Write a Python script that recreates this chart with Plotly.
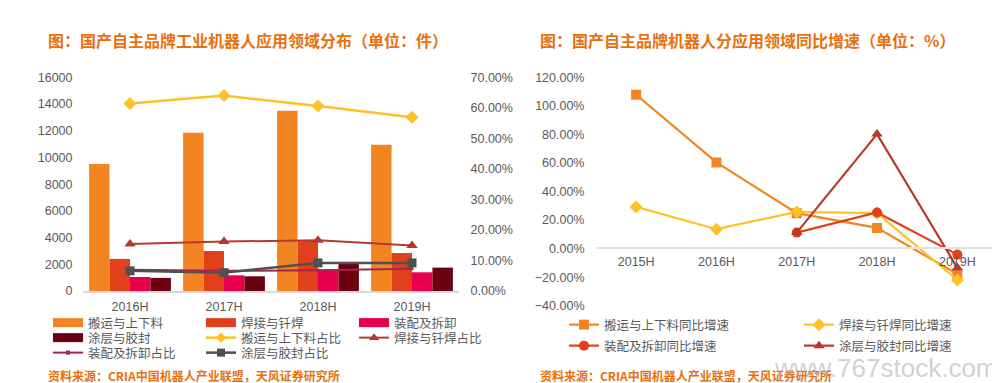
import plotly.graph_objects as go

# ---------------- data ----------------
cats_left = ["2016H", "2017H", "2018H", "2019H"]
handling = [9500, 11850, 13500, 10950]
welding = [2400, 3000, 3800, 2850]
assembly = [1050, 1175, 1600, 1400]
coating = [980, 1100, 2125, 1750]
handling_share = [0.614, 0.640, 0.606, 0.569]
welding_share = [0.154, 0.162, 0.166, 0.149]
assembly_share = [0.070, 0.066, 0.068, 0.073]
coating_share = [0.066, 0.060, 0.092, 0.092]

cats_right = ["2015H", "2016H", "2017H", "2018H", "2019H"]
handling_yoy = [1.078, 0.604, 0.248, 0.145, -0.178]
welding_yoy = [0.292, 0.136, 0.257, 0.248, -0.220]
assembly_yoy = [None, None, 0.112, 0.253, -0.042]
coating_yoy = [None, None, 0.112, 0.802, -0.135]

left_names = ["搬运与上下料", "焊接与钎焊", "装配及拆卸", "涂层与胶封"]
left_share_names = ["搬运与上下料占比", "焊接与钎焊占比", "装配及拆卸占比", "涂层与胶封占比"]
right_names = ["搬运与上下料同比增速", "焊接与钎焊同比增速", "装配及拆卸同比增速", "涂层与胶封同比增速"]

title_left = "图：国产自主品牌工业机器人应用领域分布（单位：件）"
title_right = "图：国产自主品牌机器人分应用领域同比增速（单位：%）"
source_text = "资料来源：CRIA中国机器人产业联盟，天风证券研究所"

# ---------------- styles / geometry ----------------
W, H = 992, 375          # page body has an 8px margin
OFF = 8


def px(X):
    return (X - OFF) / W


def py(Y):
    return 1 - (Y - OFF) / H


C_ORANGE = "#F28522"
C_RED = "#E0401C"
C_PINK = "#E8004C"
C_MAROON = "#6B0010"
C_YELLOW = "#FFC125"
C_BROWN = "#B53A2C"
C_CRIMSON = "#A8234B"
C_GRAY = "#505050"
TXT = "#595959"
FONT = "Liberation Sans, Noto Sans CJK SC, sans-serif"
TITLE_ORANGE = "#E8700E"

fig = go.Figure()

bar_colors = [C_ORANGE, C_RED, C_PINK, C_MAROON]
bar_vals = [handling, welding, assembly, coating]
for name, vals, col in zip(left_names, bar_vals, bar_colors):
    fig.add_trace(go.Bar(x=cats_left, y=vals, name=name, marker=dict(color=col, line=dict(width=0)),
                         xaxis="x", yaxis="y", showlegend=False, legendgroup=name))

share_vals = [handling_share, welding_share, assembly_share, coating_share]
share_cols = [C_YELLOW, C_BROWN, C_CRIMSON, C_GRAY]
share_syms = ["diamond", "triangle-up", "square", "square"]
share_sizes = [10, 10, 3, 9]
share_widths = [2.5, 2, 2, 2.5]
for name, vals, col, sym, sz, w in zip(left_share_names, share_vals, share_cols, share_syms, share_sizes, share_widths):
    fig.add_trace(go.Scatter(x=cats_left, y=vals, name=name, mode="lines+markers",
                             line=dict(color=col, width=w), marker=dict(symbol=sym, size=sz, color=col),
                             xaxis="x", yaxis="y2", showlegend=False, legendgroup=name))

# legend entries (left), three rows x three columns
left_legend_items = [
    (left_names[0], "bar", C_ORANGE, None, "legend"),
    (left_names[1], "bar", C_RED, None, "legend"),
    (left_names[2], "bar", C_PINK, None, "legend"),
    (left_names[3], "bar", C_MAROON, None, "legend2"),
    (left_share_names[0], "line", C_YELLOW, ("diamond", 8, 2.5), "legend2"),
    (left_share_names[1], "line", C_BROWN, ("triangle-up", 9, 2), "legend2"),
    (left_share_names[2], "line", C_CRIMSON, ("square", 4, 2), "legend3"),
    (left_share_names[3], "line", C_GRAY, ("square", 8, 2.5), "legend3"),
]
for name, kind, col, mk, lg in left_legend_items:
    if kind == "bar":
        fig.add_trace(go.Scatter(x=[None], y=[None], name=name, mode="lines",
                                 line=dict(color=col, width=9), legend=lg, legendgroup=name,
                                 xaxis="x", yaxis="y", hoverinfo="skip"))
    else:
        fig.add_trace(go.Scatter(x=[None], y=[None], name=name, mode="lines+markers",
                                 line=dict(color=col, width=mk[2]), marker=dict(symbol=mk[0], size=mk[1], color=col),
                                 legend=lg, legendgroup=name, xaxis="x", yaxis="y", hoverinfo="skip"))

# right chart
right_vals = [handling_yoy, welding_yoy, assembly_yoy, coating_yoy]
right_cols = [C_ORANGE, C_YELLOW, C_RED, C_BROWN]
right_syms = ["square", "diamond", "circle", "triangle-up"]
right_sizes = [10, 10, 10, 10]
right_legends = ["legend4", "legend5", "legend6", "legend7"]
for name, vals, col, sym, sz, lg in zip(right_names, right_vals, right_cols, right_syms, right_sizes, right_legends):
    fig.add_trace(go.Scatter(x=cats_right, y=vals, name=name, mode="lines+markers",
                             line=dict(color=col, width=2.2), marker=dict(symbol=sym, size=sz, color=col),
                             xaxis="x2", yaxis="y3", legend=lg, connectgaps=False))

leg_common = dict(orientation="h", bgcolor="rgba(0,0,0,0)", borderwidth=0,
                  font=dict(family=FONT, size=12.5, color=TXT),
                  xanchor="left", yanchor="middle", itemclick=False, itemdoubleclick=False,
                  tracegroupgap=0)

fig.update_layout(
    width=W, height=H,
    margin=dict(l=0, r=0, t=0, b=0, autoexpand=False),
    paper_bgcolor="white", plot_bgcolor="white",
    font=dict(family=FONT, size=12, color=TXT),
    barmode="group", bargap=0.13, bargroupgap=0,
    xaxis=dict(domain=[px(83), px(459)], anchor="y", type="category", showline=True, linecolor="#D9D9D9",
               linewidth=1.5, showgrid=False, ticks="outside", ticklen=3, tickcolor="rgba(0,0,0,0)",
               tickfont=dict(size=12.5, color=TXT), automargin=False),
    yaxis=dict(domain=[py(291), py(77.3)], anchor="x", range=[0, 16000], dtick=2000, showgrid=False,
               zeroline=False, showline=False, ticks="outside", ticklen=7, tickcolor="rgba(0,0,0,0)",
               tickformat="d", tickfont=dict(size=12.5, color=TXT), automargin=False),
    yaxis2=dict(overlaying="y", side="right", anchor="x", range=[0, 0.70], dtick=0.10, tickformat=".2%",
                showgrid=False, zeroline=False, showline=False, ticks="outside", ticklen=8,
                tickcolor="rgba(0,0,0,0)", tickfont=dict(size=12.5, color=TXT), automargin=False),
    xaxis2=dict(domain=[px(596), px(997.5)], anchor="free", position=py(248.3), type="category",
                range=[-0.5, 4.5], showline=True,
                linecolor="#E3E3E3", linewidth=2, showgrid=False, ticks="outside", ticklen=2,
                tickcolor="rgba(0,0,0,0)", tickfont=dict(size=12.5, color=TXT), automargin=False),
    yaxis3=dict(domain=[py(305.7), py(77.3)], anchor="x2", range=[-0.4, 1.2], dtick=0.2, tickformat=".2%",
                showgrid=False, zeroline=False, showline=False, ticks="outside", ticklen=8,
                tickcolor="rgba(0,0,0,0)", tickfont=dict(size=12.5, color=TXT), automargin=False),
    legend=dict(**leg_common, x=px(48), y=py(323), entrywidth=108, entrywidthmode="pixels"),
    legend2=dict(**leg_common, x=px(48), y=py(338), entrywidth=108, entrywidthmode="pixels"),
    legend3=dict(**leg_common, x=px(48), y=py(353), entrywidth=108, entrywidthmode="pixels"),
    legend4=dict(**leg_common, x=px(564), y=py(325)),
    legend5=dict(**leg_common, x=px(799), y=py(325)),
    legend6=dict(**leg_common, x=px(564), y=py(346)),
    legend7=dict(**leg_common, x=px(799), y=py(346)),
    showlegend=True,
)

ann_title = dict(family="Noto Sans CJK SC, sans-serif", size=16, color=TITLE_ORANGE, weight="bold")
ann_src = dict(family="Noto Sans CJK SC, Liberation Sans, sans-serif", size=12, color=TITLE_ORANGE, weight="bold")
fig.add_annotation(text=title_left, xref="paper", yref="paper", x=px(46), y=py(40),
                   xanchor="left", yanchor="middle", showarrow=False, font=ann_title)
fig.add_annotation(text=title_right, xref="paper", yref="paper", x=px(538), y=py(40),
                   xanchor="left", yanchor="middle", showarrow=False, font=ann_title)
fig.add_annotation(text=source_text, xref="paper", yref="paper", x=px(46), y=py(375),
                   xanchor="left", yanchor="middle", showarrow=False, font=ann_src)
fig.add_annotation(text=source_text, xref="paper", yref="paper", x=px(538), y=py(375),
                   xanchor="left", yanchor="middle", showarrow=False, font=ann_src)
fig.add_annotation(text="www.767stock.com", xref="paper", yref="paper", x=1.0, y=py(368),
                   xanchor="right", yanchor="middle", showarrow=False,
                   font=dict(family="Liberation Sans, sans-serif", size=26, color="rgba(170,170,170,0.55)"))

fig.write_html("out.html")
